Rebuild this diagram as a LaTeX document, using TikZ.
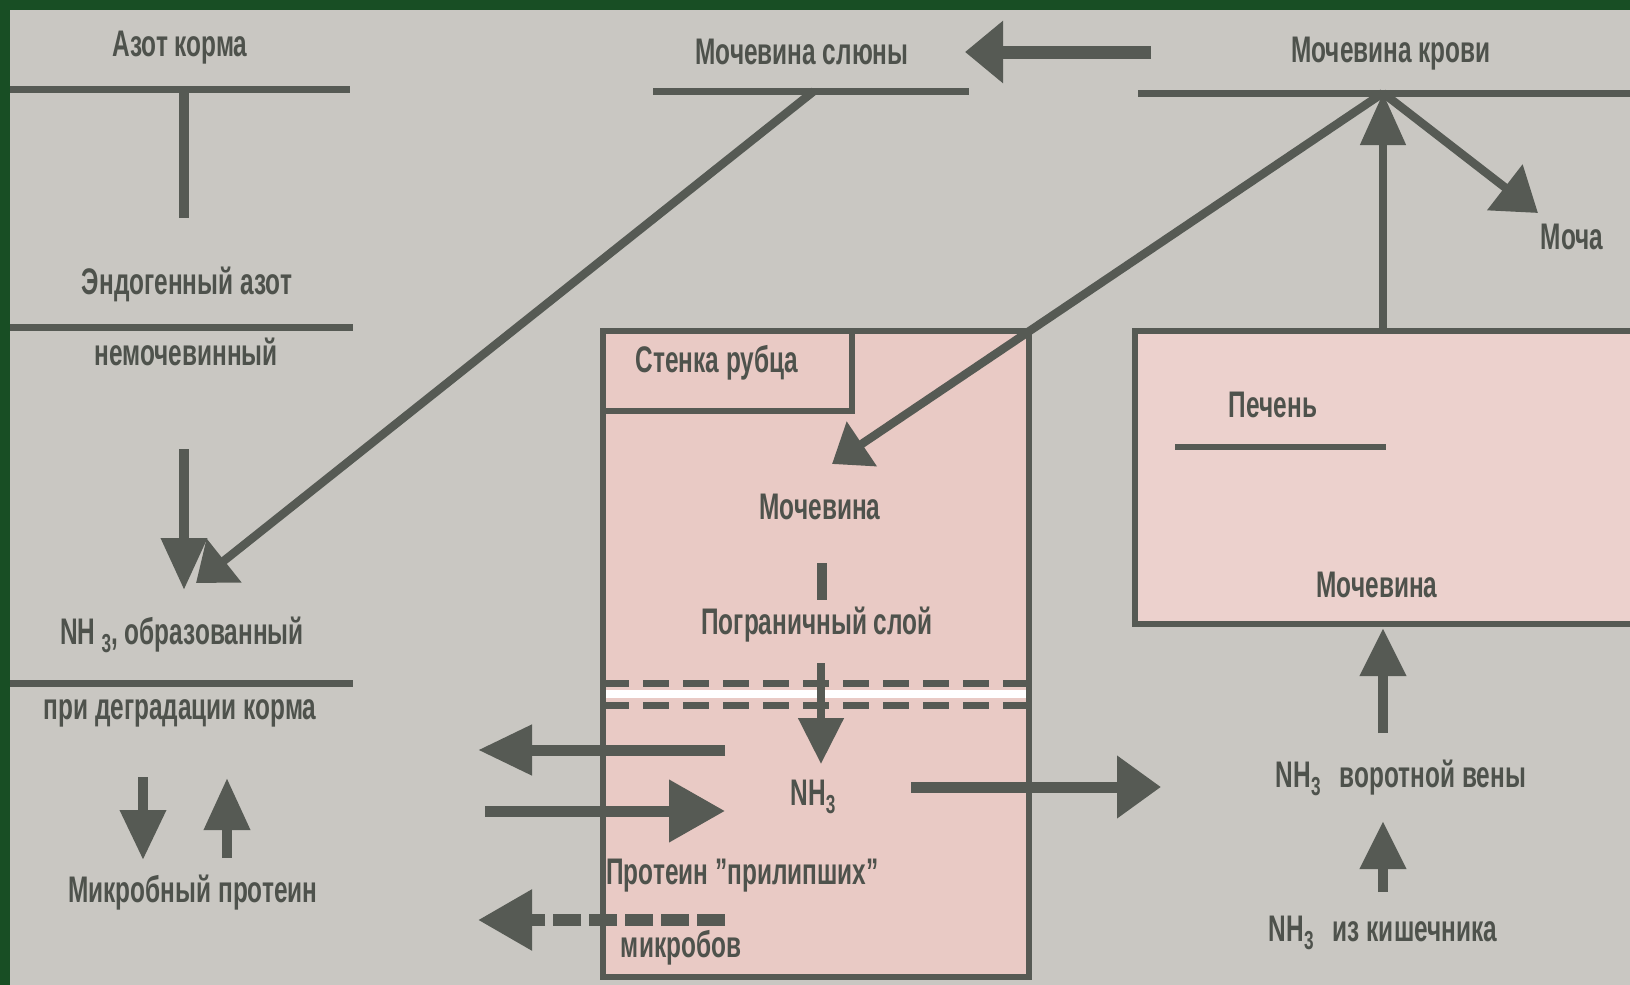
\documentclass[tikz,border=0pt]{standalone}
\usepackage{fontspec}
\setmainfont{Liberation Sans}[FakeStretch=0.66]
\usetikzlibrary{arrows.meta}
\definecolor{bg}{RGB}{201,199,194}
\definecolor{ink}{RGB}{86,90,84}
\definecolor{txt}{RGB}{78,82,76}
\definecolor{pinkf}{RGB}{233,202,197}
\definecolor{pinkl}{RGB}{236,209,205}
\definecolor{frame}{RGB}{24,78,36}
\newcommand\sbt[1]{\raisebox{-0.4ex}{\fontsize{13pt}{13pt}\selectfont #1}}
\begin{document}
\begin{tikzpicture}[x=0.5pt,y=-0.5pt,
  lbl/.style={text=txt,font=\fontsize{18.5pt}{20pt}\selectfont\bfseries,inner sep=0pt},
  rule/.style={draw=ink,line width=3.5pt},
  boxline/.style={draw=ink,line width=3pt},
  shaft/.style={draw=ink,line width=5pt},
  thinshaft/.style={draw=ink,line width=4.2pt},
  arr/.style 2 args={-{Triangle[length=#1,width=#2]}}]
\useasboundingbox (0,0) rectangle (1630,985);
\fill[frame] (0,0) rectangle (1630,985);
\fill[bg] (10,10) rectangle (1630,985);

% ---------- rumen box (drawn first) ----------
\fill[pinkf] (603,331) rectangle (1029,977);
\fill[white] (603,690) rectangle (1029,698);
\draw[draw=ink,line width=3.5pt,dash pattern=on 13pt off 7pt] (603,683) -- (1029,683);
\draw[draw=ink,line width=3.5pt,dash pattern=on 13pt off 7pt] (603,705) -- (1029,705);
\draw[boxline] (603,331) rectangle (1029,977);
\draw[boxline] (603,331) rectangle (852,411);

% ---------- liver box ----------
\fill[pinkl] (1135,331) rectangle (1630,624);
\draw[boxline] (1630,331) -- (1135,331) -- (1135,624) -- (1630,624);

% ---------- left column ----------
\node[lbl] (azot) at (180,48) {Азот корма};
\coordinate (l1a) at (10,89); \coordinate (l1b) at (350,89);
\draw[rule] (l1a) -- (l1b);
\coordinate (t1) at (184,89); \coordinate (t2) at (184,218);
\draw[shaft] (t1) -- (t2);

\node[lbl] (endo) at (187,284) {Эндогенный азот};
\coordinate (l2a) at (10,327); \coordinate (l2b) at (353,327);
\draw[rule] (l2a) -- (l2b);
\node[lbl] (nemoch) at (186,352) {немочевинный};

\coordinate (d1) at (184,449); \coordinate (d2) at (184,590);
\draw[shaft,arr={26pt}{22pt}] (d1) -- (d2);

\node[lbl] (nhobr) at (182,635) {NH\,\sbt{3}, образованный};
\coordinate (l3a) at (10,683); \coordinate (l3b) at (353,683);
\draw[rule] (l3a) -- (l3b);
\node[lbl] (pri) at (180,713) {при деградации корма};

\coordinate (m1) at (143,777); \coordinate (m2) at (143,860);
\draw[shaft,arr={25pt}{22pt}] (m1) -- (m2);
\coordinate (m3) at (227,858); \coordinate (m4) at (227,778);
\draw[shaft,arr={26pt}{22pt}] (m3) -- (m4);
\node[lbl] (mikprot) at (193,893) {Микробный протеин};

% ---------- top middle ----------
\node[lbl] (slyuny) at (802,52) {Мочевина слюны};
\coordinate (l4a) at (653,91); \coordinate (l4b) at (969,91);
\draw[rule] (l4a) -- (l4b);
\coordinate (s0) at (814,91); \coordinate (s1) at (196,583);
\draw[thinshaft,arr={18pt}{27pt}] (s0) -- (s1);

\coordinate (k0) at (1151,52); \coordinate (k1) at (965,52);
\draw[draw=ink,line width=6.5pt,arr={19pt}{30pt}] (k0) -- (k1);

% ---------- top right ----------
\node[lbl] (krovi) at (1391,54) {Мочевина крови};
\coordinate (l5a) at (1138,93); \coordinate (l5b) at (1630,93);
\draw[rule] (l5a) -- (l5b);
\coordinate (apex) at (1383,93);
\coordinate (ru) at (832,464);
\draw[thinshaft,arr={18pt}{26pt}] (apex) -- (ru);
\coordinate (mo) at (1538,213);
\draw[thinshaft,arr={21pt}{28pt}] (apex) -- (mo);
\node[lbl] (mocha) at (1572,237) {Моча};

% ---------- rumen contents ----------
\node[lbl] (stenka) at (717,363) {Стенка рубца};
\node[lbl] (mochr) at (820,507) {Мочевина};
\coordinate (b1) at (822,563); \coordinate (b2) at (822,600);
\draw[shaft] (b1) -- (b2);
\node[lbl] (pogr) at (817,625) {Пограничный слой};
\coordinate (p1) at (821,663); \coordinate (p2) at (821,764);
\draw[draw=ink,line width=4pt,arr={23pt}{22pt}] (p1) -- (p2);
\node[lbl] (nhr) at (813,797) {NH\sbt{3}};

\coordinate (a1) at (725,750); \coordinate (a2) at (478,750);
\draw[draw=ink,line width=5.5pt,arr={27pt}{24pt}] (a1) -- (a2);
\coordinate (a3) at (485,811); \coordinate (a4) at (725,811);
\draw[draw=ink,line width=5.5pt,arr={28pt}{30pt}] (a3) -- (a4);
\coordinate (a5) at (911,787); \coordinate (a6) at (1161,787);
\draw[draw=ink,line width=5.5pt,arr={22pt}{30pt}] (a5) -- (a6);

\node[lbl,anchor=west] (prot) at (606,876) {Протеин ”прилипших”};
\node[lbl] (mikrob) at (681,948) {микробов};
\coordinate (a7) at (725,920); \coordinate (a8) at (478,920);
\draw[draw=ink,line width=6pt,dash pattern=on 14pt off 4pt,arr={27pt}{29pt}] (a7) -- (a8);

% ---------- liver contents ----------
\node[lbl] (pechen) at (1273,405) {Печень};
\coordinate (pl1) at (1175,447); \coordinate (pl2) at (1386,447);
\draw[draw=ink,line width=3pt] (pl1) -- (pl2);
\node[lbl] (mochl) at (1377,585) {Мочевина};
\coordinate (v0) at (1383,331);
\draw[draw=ink,line width=4pt,arr={26pt}{22pt}] (v0) -- (apex);

\coordinate (v1) at (1383,733); \coordinate (v2) at (1383,628);
\draw[shaft,arr={24pt}{22pt}] (v1) -- (v2);
\node[lbl] (vorot) at (1401,778) {NH\sbt{3}\,\, воротной вены};
\coordinate (v3) at (1383,892); \coordinate (v4) at (1383,821);
\draw[shaft,arr={24pt}{22pt}] (v3) -- (v4);
\node[lbl] (kish) at (1383,933) {NH\sbt{3}\,\, из кишечника};
\end{tikzpicture}
\end{document}
